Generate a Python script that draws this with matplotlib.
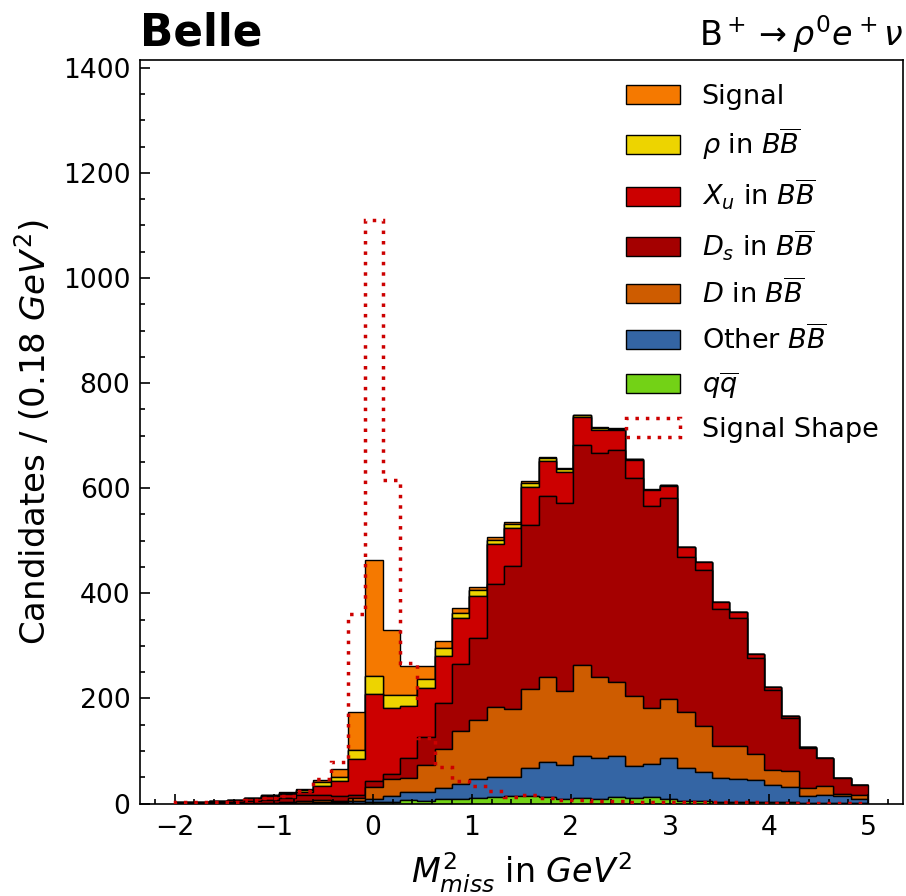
import numpy as np
import matplotlib
matplotlib.use("Agg")
import matplotlib.pyplot as plt
from matplotlib.ticker import AutoMinorLocator

# Binning in M_miss^2 (GeV^2)
bin_edges = np.linspace(-2.0, 5.0, 41)
bin_centers = 0.5 * (bin_edges[:-1] + bin_edges[1:])

# Stacked components per bin (candidates / bin)
qq = [0, 0, 0, 0, 0, 0, 0, 0.3, 0.5, 1, 1, 2, 3, 7.6, 5, 9, 9, 11, 13, 14,
      15, 12, 8, 10, 8, 13, 10, 12, 8, 5, 4, 3, 3, 2, 2, 2, 1, 1, 1, 1]
other_bb = [0, 0, 0, 0, 0, 0, 0.5, 0.7, 1.5, 1.5, 3, 7, 12, 14.4, 17, 21, 29, 36, 38, 37,
            53, 67, 65, 80, 78, 78, 61, 64, 79, 63, 56, 46, 44, 42, 33, 29, 14, 16, 13, 8]
d_bb = [0, 0, 0, 0.5, 0, 1, 1.5, 3, 4, 2.5, 7, 22, 31, 27, 51, 73, 100, 112, 132, 129,
        149, 161, 141, 173, 154, 141, 133, 106, 112, 107, 88, 60, 62, 51, 28, 30.5, 15, 17, 5, 8]
ds_bb = [1, 1.5, 2, 2.5, 5, 6, 8, 12, 11, 10, 6, 11, 10.5, 38, 53, 89, 128, 156, 235, 272,
         313, 345, 358, 419, 427, 440, 416, 385, 383, 294, 297, 261, 244, 182, 153, 101.5, 76, 53, 29, 18]
xu_bb = [1, 1.5, 2, 3, 5, 8, 9, 6, 16, 27.5, 68.6, 167, 124.5, 98, 93, 89, 87, 80, 75, 73,
         73, 66, 59, 54, 43, 38, 34, 29, 23, 19, 14, 14, 11, 8, 5, 3, 1, 0.5, 1, 1]
rho_bb = [0, 0, 0, 0, 1, 1, 1.5, 3, 8, 8.5, 15.9, 34.6, 25, 21, 18, 15, 10, 11, 9, 7,
          7, 6, 5, 3, 4, 3, 1, 1, 1, 0.5, 0.3, 0, 0, 0, 0, 0, 0, 0, 0, 0]
signal = [0, 0, 0, 0, 0, 0, 0.5, 3, 3, 15, 72.9, 220.4, 124, 55, 25, 14, 9, 6, 5, 4,
          4, 3, 2, 1, 2, 2, 1, 1, 1, 0, 0, 0, 0, 0, 0, 0, 0, 0, 0, 0]

# Normalised signal template drawn as an outline
signal_shape = [2, 2, 2, 3, 6, 10, 15, 24, 47, 79, 361, 1110, 615, 268, 125, 69, 42, 33, 23, 13,
                17, 11, 6, 6, 4, 4, 3, 3, 3, 2, 2, 2, 2, 2, 1, 1, 1, 1, 1, 1]

labels = [r"$q\overline{q}$", r"Other $B\overline{B}$", r"$D$ in $B\overline{B}$",
          r"$D_s$ in $B\overline{B}$", r"$X_u$ in $B\overline{B}$",
          r"$\rho$ in $B\overline{B}$", "Signal"]
colors = ["#73d216", "#3465a4", "#ce5c00", "#a40000", "#cc0000", "#edd400", "#f57900"]
components = [qq, other_bb, d_bb, ds_bb, xu_bb, rho_bb, signal]

fig = plt.figure(figsize=(9.06, 8.96), dpi=100)
ax = fig.add_axes([0.1545, 0.1032, 0.842, 0.830])

ax.hist([bin_centers] * len(components), bins=bin_edges, weights=components,
        stacked=True, histtype="stepfilled", color=colors, label=labels,
        edgecolor="black", linewidth=1.0)
ax.hist(bin_centers, bins=bin_edges, weights=signal_shape, histtype="step",
        color="#cc0000", linewidth=2.5, linestyle=(0, (1, 2)), label="Signal Shape",
        zorder=5)

ax.set_xlim(-2.35, 5.35)
ax.set_ylim(0, 1415)
ax.xaxis.set_minor_locator(AutoMinorLocator())
ax.yaxis.set_minor_locator(AutoMinorLocator())
ax.tick_params(which="both", direction="in", top=False, right=False, labelsize=19.2, width=1.2)
ax.tick_params(which="major", length=7.5)
ax.tick_params(which="minor", length=3.8)
ax.tick_params(axis="x", which="major", pad=8.5)
ax.tick_params(axis="y", which="major", pad=7)
for sp in ax.spines.values():
    sp.set_linewidth(1.2)

ax.set_xlabel(r"$M^2_{miss}$ in $GeV^2$", fontsize=24, labelpad=7)
ax.set_ylabel(r"Candidates / (0.18 $GeV^2$)", fontsize=24.5, labelpad=7)
ax.set_title("Belle", loc="left", fontsize=31.5, fontweight="bold", pad=11)
ax.set_title(r"B$^+\rightarrow\rho^0e^+\nu$", loc="right", fontsize=24, pad=10)

# Legend: top of the stack first, template outline last
handles, labs = ax.get_legend_handles_labels()
by_label = dict(zip(labs, handles))
legend_order = ["Signal", r"$\rho$ in $B\overline{B}$", r"$X_u$ in $B\overline{B}$",
                r"$D_s$ in $B\overline{B}$", r"$D$ in $B\overline{B}$",
                r"Other $B\overline{B}$", r"$q\overline{q}$", "Signal Shape"]
ax.legend([by_label[l] for l in legend_order], legend_order, loc="upper right",
          frameon=False, fontsize=19.5, labelspacing=0.56, handlelength=2.0)

fig.savefig("out.png", dpi=100)
